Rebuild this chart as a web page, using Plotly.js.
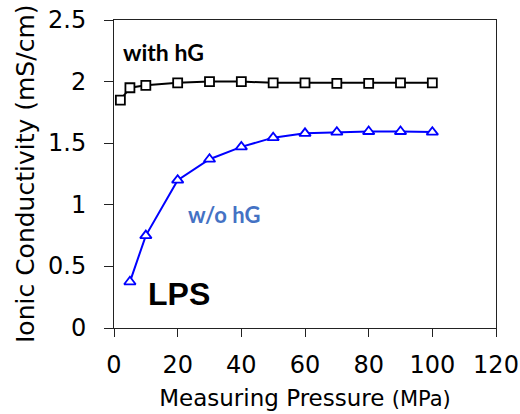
<!DOCTYPE html>
<html>
<head>
<meta charset="utf-8">
<script src="https://cdn.plot.ly/plotly-3.0.1.min.js"></script>
<style>html,body{margin:0;padding:0;background:#fff;}#chart{width:520px;height:414px;}</style>
</head>
<body>
<div id="chart"></div>
<script>
const pressureWith = [2, 5, 10, 20, 30, 40, 50, 60, 70, 80, 90, 100];
const condWith = [1.85, 1.95, 1.97, 1.99, 2.0, 2.0, 1.99, 1.99, 1.985, 1.985, 1.99, 1.99];
const pressureWithout = [5, 10, 20, 30, 40, 50, 60, 70, 80, 90, 100];
const condWithout = [0.375, 0.75, 1.2, 1.37, 1.47, 1.545, 1.58, 1.59, 1.595, 1.595, 1.59];
const xTicks = [0, 20, 40, 60, 80, 100, 120];
const yTicks = [0, 0.5, 1, 1.5, 2, 2.5];
const yTickLabels = ['0', '0.5', '1', '1.5', '2', '2.5'];

const traces = [
  {
    x: pressureWith, y: condWith, type: 'scatter', mode: 'lines+markers', name: 'with hG',
    line: {color: '#000000', width: 2},
    marker: {symbol: 'square', size: 9, color: '#ffffff', line: {color: '#000000', width: 1.8}}
  },
  {
    x: pressureWithout, y: condWithout, type: 'scatter', mode: 'lines+markers', name: 'w/o hG',
    line: {color: '#0000ff', width: 2},
    marker: {symbol: 'triangle-up', size: 10, color: '#ffffff', line: {color: '#0000ff', width: 1.8}}
  }
];

const FONT = 'DejaVu Sans, Verdana, sans-serif';
const L = 114, R = 24;
const plotW = 520 - L - R;
const px = v => (v - L) / plotW;   // pixel column -> paper fraction

// y tick labels placed at the tick values of the y axis
const yLabelAnnotations = yTicks.map((v, i) => ({
  x: px(88), y: v, xref: 'paper', yref: 'y', xanchor: 'right', yanchor: 'middle',
  text: yTickLabels[i], showarrow: false, font: {size: 24, family: FONT, color: '#000000'}
}));

const layout = {
  width: 520, height: 414,
  margin: {l: L, r: R, t: 20, b: 86},
  paper_bgcolor: '#ffffff', plot_bgcolor: '#ffffff',
  showlegend: false,
  font: {family: FONT, color: '#000000'},
  xaxis: {
    range: [0, 120], tickvals: xTicks, ticktext: xTicks.map(String),
    showgrid: false, zeroline: false, showline: true, mirror: true, automargin: false,
    linecolor: '#222222', linewidth: 1, ticks: 'outside', ticklen: 8, tickcolor: '#222222',
    ticklabelstandoff: 7, ticklabeloverflow: 'allow',
    tickfont: {size: 24, family: FONT},
    title: {text: "Measuring Pressure <span style='font-size:21px'>(MPa)</span>",
            font: {size: 23, family: FONT}, standoff: 12}
  },
  yaxis: {
    range: [0, 2.5], tickvals: yTicks, showticklabels: false,
    showgrid: false, zeroline: false, showline: true, mirror: true, automargin: false,
    linecolor: '#222222', linewidth: 1, ticks: 'outside', ticklen: 9, tickcolor: '#222222'
  },
  annotations: yLabelAnnotations.concat([
    {x: px(25), y: 0.5, xref: 'paper', yref: 'paper', xanchor: 'center', yanchor: 'middle',
     text: 'Ionic Conductivity (mS/cm)', textangle: -90, showarrow: false,
     font: {size: 25, family: FONT, color: '#000000'}},
    {x: 15.7, y: 2.24, xref: 'x', yref: 'y', text: '<b>with hG</b>', showarrow: false,
     font: {family: 'Lato, sans-serif', size: 23, color: '#000000'}},
    {x: 34.6, y: 0.92, xref: 'x', yref: 'y', text: '<b>w/o hG</b>', showarrow: false,
     font: {family: 'Lato, sans-serif', size: 22, color: '#4472c4'}},
    {x: 20.4, y: 0.28, xref: 'x', yref: 'y', text: '<b>LPS</b>', showarrow: false,
     font: {family: 'Liberation Sans, Arial, sans-serif', size: 32, color: '#000000'}}
  ])
};

Plotly.newPlot('chart', traces, layout, {staticPlot: true, displayModeBar: false});
</script>
</body>
</html>
